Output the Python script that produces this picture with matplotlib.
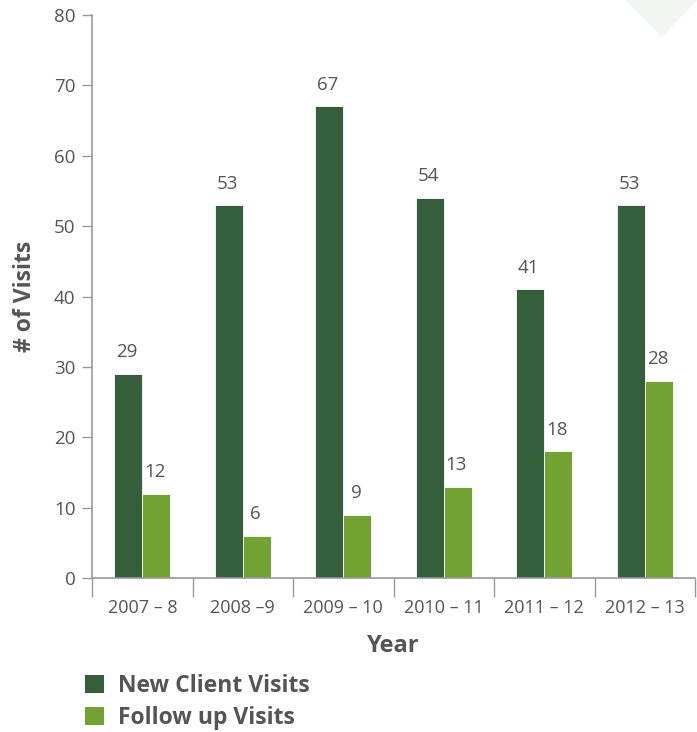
import matplotlib
matplotlib.use("Agg")
import matplotlib.pyplot as plt
import numpy as np
from matplotlib.patches import Polygon, Patch

years = ["2007 – 8", "2008 –9", "2009 – 10", "2010 – 11", "2011 – 12", "2012 – 13"]
new_client = [29, 53, 67, 54, 41, 53]
follow_up = [12, 6, 9, 13, 18, 28]
series_names = ["New Client Visits", "Follow up Visits"]

DARK = "#355E3B"
LIGHT = "#72A332"
TXT = "#555555"
AXC = "#9A9A9A"

plt.rcParams['font.family'] = ['Open Sans', 'DejaVu Sans']

fig = plt.figure(figsize=(6.97, 7.32), dpi=100)
ax = fig.add_axes([92/697, 1-578/732, (695-92)/697, (578-15)/732])

# decorative triangle at the top right
fig.patches.append(Polygon([[625/697, 1], [697/697, 1], [662/697, 1-37/732]],
                           closed=True, transform=fig.transFigure,
                           facecolor="#F3F5F0", edgecolor="none", zorder=0))

x = np.arange(len(years))
w = 0.28
b1 = ax.bar(x - w/2, new_client, width=w, color=DARK, edgecolor="white", linewidth=0.6, zorder=2)
b2 = ax.bar(x + w/2, follow_up, width=w, color=LIGHT, edgecolor="white", linewidth=0.6, zorder=2)

for bars, vals in ((b1, new_client), (b2, follow_up)):
    for r, v in zip(bars, vals):
        ax.annotate(f"{v}", (r.get_x() + r.get_width()/2, r.get_height()),
                    xytext=(-1, 9), textcoords="offset points", ha="center", va="bottom",
                    fontsize=13.5, color=TXT)

ax.set_xlim(-0.5, len(years) - 0.5)
ax.set_ylim(0, 80)
ax.set_yticks(range(0, 81, 10))
ax.set_xticks(np.arange(-0.5, len(years), 1.0))
ax.set_xticklabels([])
ax.set_xticks(x, minor=True)
ax.set_xticklabels(years, minor=True)
ax.tick_params(axis="x", which="major", length=14, width=1, color=AXC, direction="out")
ax.tick_params(axis="x", which="minor", length=0, pad=15, labelsize=13, labelcolor=TXT)
ax.tick_params(axis="y", length=7, width=1, color=AXC, labelsize=13.5, labelcolor=TXT, pad=5)

for s in ("top", "right"):
    ax.spines[s].set_visible(False)
for s in ("left", "bottom"):
    ax.spines[s].set_color(AXC)
    ax.spines[s].set_linewidth(1.2)

ax.set_xlabel("Year", fontsize=17, fontweight="bold", color=TXT, labelpad=12)
ax.set_ylabel("# of Visits", fontsize=16.5, fontweight="bold", color=TXT, labelpad=12)

handles = [Patch(facecolor=DARK), Patch(facecolor=LIGHT)]
fig.legend(handles, series_names, loc="upper left", bbox_to_anchor=(80/697, 1-669/732),
           frameon=False, prop={"weight": "bold", "size": 16.5},
           handlelength=0.85, handleheight=0.85, handletextpad=0.6, labelspacing=0.38,
           labelcolor=TXT, borderaxespad=0, borderpad=0.2)

fig.savefig("out.png", dpi=100)
